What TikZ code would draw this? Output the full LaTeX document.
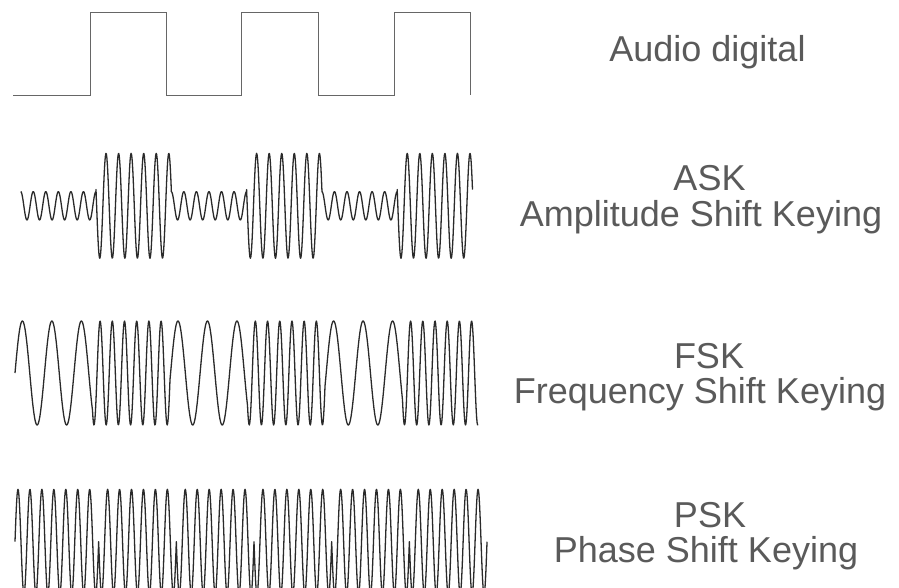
\documentclass[tikz,border=0pt]{standalone}
\usepackage{fontspec}
\setmainfont{Liberation Sans}
\definecolor{txt}{HTML}{5A5A5A}
\definecolor{sq}{HTML}{666666}
\definecolor{wv}{HTML}{2A2A2A}
\begin{document}
\begin{tikzpicture}[x=1pt,y=-1pt,
  wave/.style={draw=wv, line width=1.3pt, line join=round},
  sqw/.style={draw=sq, line width=1pt},
  lbl/.style={text=txt, font=\fontsize{36}{40}\selectfont, anchor=base, inner sep=0pt}]
\useasboundingbox (0,0) rectangle (899,588);
\fill[white] (0,0) rectangle (899,588);
\begin{scope}
\clip (0,0) rectangle (899,588);
% digital signal
\draw[sqw] (13.3,96) -- (90,96) -- (90,13) -- (166,13) -- (166,96) -- (241.7,96) -- (241.7,13)
  -- (318.3,13) -- (318.3,96) -- (394.3,96) -- (394.3,13) -- (470.7,13) -- (470.7,95);
% ASK
\draw[wave] (20.7,191.6)
  \foreach \a/\b/\amp/\d in {20.7/96/14.2/0, 96/171.3/52.5/72, 171.3/246.6/14.2/0, 246.6/321.9/52.5/72, 321.9/397.2/14.2/0, 397.2/472.5/52.5/72}
  { -- plot[domain=\a:\b, samples=160, variable=\x] (\x, {205.8 - \amp*cos((\x-20.7)/12.55*360 + \d)}) };
% FSK
\draw[wave] (15,373)
  \foreach \a/\b/\T/\p in {15/92.5/29.5/0, 92.5/170/12.2/0.62712, 170/247.5/29.5/0.97958, 247.5/325/12.2/0.60670, 325/402.5/29.5/0.95916, 402.5/478/12.2/0.58628}
  { -- plot[domain=\a:\b, samples=170, variable=\x] (\x, {373 - 52*sin(((\x-\a)/\T + \p)*360)}) };
% PSK
\draw[wave] (15,541.7)
  \foreach \a/\b/\s in {15/98.65/-1, 98.65/176.325/1, 176.325/254/1, 254/331.675/1, 331.675/409.35/1, 409.35/487.025/1}
  { -- plot[domain=\a:\b, samples=200, variable=\x] (\x, {541.7 + \s*52.4*sin((\x-\a)/11.95*360)}) };
\end{scope}
% labels
\node[lbl] (audio) at (707.5,62) {Audio digital};
\node[lbl] (ask) at (709.5,190) {ASK};
\node[lbl] (askl) at (701,226) {Amplitude Shift Keying};
\node[lbl] (fsk) at (709,368) {FSK};
\node[lbl] (fskl) at (700,403) {Frequency Shift Keying};
\node[lbl] (psk) at (710,527) {PSK};
\node[lbl] (pskl) at (706,562) {Phase Shift Keying};
\end{tikzpicture}
\end{document}
